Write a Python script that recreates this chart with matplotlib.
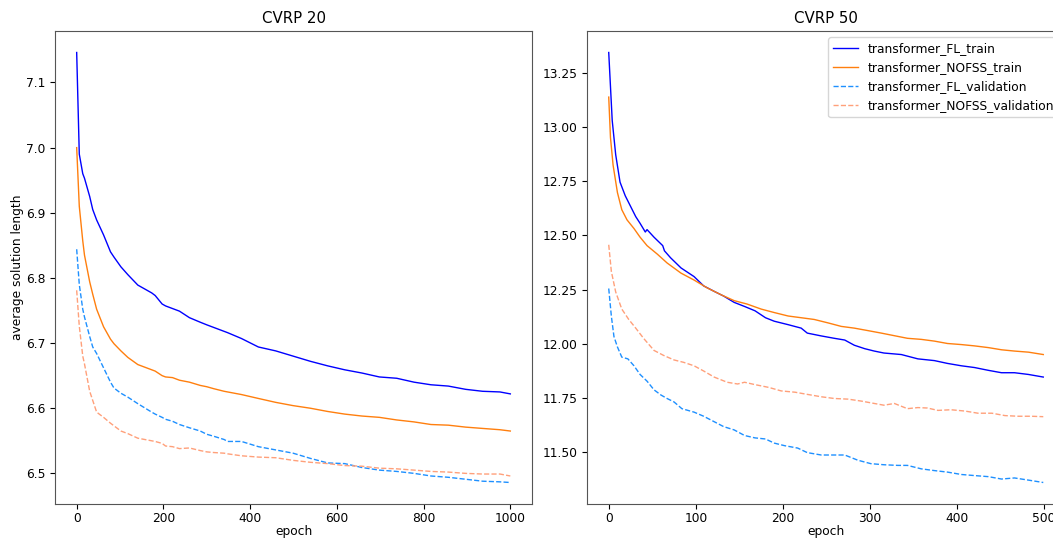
import matplotlib
matplotlib.use("Agg")
import matplotlib.pyplot as plt

ep20 = [0, 6, 14, 18, 30, 37, 46, 62, 78, 86, 102, 118, 141, 173, 181, 197, 205, 221, 237,
        260, 285, 300, 316, 340, 348, 380, 419, 459, 499, 539, 579, 618, 658, 698, 738,
        778, 817, 857, 897, 936, 976, 1000]
fl_train_20 = [7.146, 6.990, 6.960, 6.953, 6.925, 6.905, 6.889, 6.866, 6.840, 6.832, 6.817,
               6.805, 6.789, 6.777, 6.773, 6.760, 6.757, 6.753, 6.749, 6.739, 6.732, 6.728,
               6.724, 6.718, 6.716, 6.707, 6.694, 6.688, 6.680, 6.672, 6.665, 6.659, 6.654,
               6.648, 6.646, 6.640, 6.636, 6.634, 6.629, 6.626, 6.625, 6.622]
nofss_train_20 = [7.000, 6.910, 6.857, 6.835, 6.794, 6.775, 6.752, 6.725, 6.706, 6.699, 6.688,
                  6.678, 6.667, 6.659, 6.657, 6.650, 6.648, 6.647, 6.643, 6.640, 6.635, 6.633,
                  6.630, 6.626, 6.625, 6.621, 6.615, 6.609, 6.604, 6.600, 6.595, 6.591, 6.588,
                  6.586, 6.582, 6.579, 6.575, 6.574, 6.571, 6.569, 6.567, 6.565]
fl_val_20 = [6.844, 6.790, 6.752, 6.740, 6.710, 6.694, 6.684, 6.662, 6.640, 6.631, 6.623,
             6.617, 6.607, 6.594, 6.591, 6.586, 6.583, 6.580, 6.575, 6.570, 6.565, 6.560,
             6.557, 6.552, 6.549, 6.549, 6.541, 6.536, 6.531, 6.523, 6.516, 6.515, 6.509,
             6.505, 6.503, 6.500, 6.496, 6.494, 6.491, 6.488, 6.487, 6.486]
nofss_val_20 = [6.781, 6.726, 6.680, 6.668, 6.626, 6.612, 6.594, 6.586, 6.577, 6.573, 6.565,
                6.561, 6.554, 6.550, 6.549, 6.546, 6.542, 6.541, 6.538, 6.539, 6.535, 6.533,
                6.532, 6.531, 6.530, 6.527, 6.525, 6.524, 6.520, 6.517, 6.515, 6.512, 6.511,
                6.508, 6.507, 6.505, 6.503, 6.502, 6.500, 6.499, 6.499, 6.496]

# CVRP 50
ep50_fl_train = [0, 4, 8, 13, 19, 25, 31, 36, 42, 44, 52, 62, 64, 71, 83, 98, 109, 121, 132,
                 144, 156, 168, 180, 190, 206, 221, 228, 244, 259, 271, 282, 294, 305, 316,
                 336, 355, 374, 389, 405, 420, 436, 451, 466, 482, 499]
fl_train_50 = [13.345, 13.031, 12.873, 12.746, 12.683, 12.635, 12.587, 12.556, 12.516, 12.527,
               12.492, 12.453, 12.429, 12.397, 12.350, 12.310, 12.267, 12.242, 12.220, 12.191,
               12.172, 12.152, 12.120, 12.104, 12.088, 12.072, 12.049, 12.036, 12.025, 12.017,
               11.993, 11.977, 11.966, 11.957, 11.950, 11.930, 11.922, 11.909, 11.898, 11.890,
               11.877, 11.866, 11.866, 11.858, 11.846]
ep50 = [0, 2, 5, 10, 15, 21, 29, 36, 44, 56, 67, 83, 98, 113, 129, 144, 159, 175, 190, 206,
        221, 236, 252, 267, 282, 297, 313, 328, 343, 359, 374, 389, 405, 420, 436, 451, 466,
        482, 499]
nofss_train_50 = [13.139, 12.952, 12.825, 12.698, 12.619, 12.572, 12.532, 12.492, 12.453,
                  12.413, 12.373, 12.326, 12.294, 12.258, 12.226, 12.199, 12.183, 12.160,
                  12.144, 12.128, 12.120, 12.112, 12.096, 12.080, 12.072, 12.061, 12.049,
                  12.037, 12.025, 12.020, 12.012, 12.001, 11.996, 11.990, 11.982, 11.972,
                  11.966, 11.961, 11.950]
ep50_fl_val = [0, 3, 6, 10, 15, 22, 29, 36, 44, 52, 60, 67, 75, 84, 98, 109, 121, 132, 144,
               156, 168, 180, 190, 202, 217, 228, 244, 259, 271, 286, 301, 316, 332, 343, 359,
               374, 389, 405, 420, 436, 451, 466, 482, 499]
fl_val_50 = [12.255, 12.128, 12.033, 11.985, 11.938, 11.930, 11.898, 11.858, 11.827, 11.787,
             11.763, 11.747, 11.731, 11.700, 11.684, 11.665, 11.640, 11.617, 11.602, 11.576,
             11.565, 11.560, 11.541, 11.529, 11.518, 11.497, 11.486, 11.486, 11.486, 11.462,
             11.446, 11.441, 11.438, 11.438, 11.422, 11.414, 11.407, 11.396, 11.391, 11.386,
             11.375, 11.380, 11.370, 11.359]
ep50_nofss_val = [0, 3, 8, 15, 23, 31, 40, 52, 63, 75, 86, 98, 109, 121, 136, 148, 156, 168,
                  184, 198, 214, 228, 244, 259, 275, 290, 305, 316, 328, 343, 355, 366, 378,
                  393, 409, 424, 440, 455, 470, 485, 499]
nofss_val_50 = [12.457, 12.334, 12.239, 12.160, 12.112, 12.072, 12.025, 11.969, 11.946,
                11.925, 11.914, 11.898, 11.874, 11.846, 11.822, 11.814, 11.822, 11.811,
                11.798, 11.782, 11.776, 11.766, 11.755, 11.747, 11.744, 11.735, 11.724,
                11.716, 11.724, 11.700, 11.705, 11.703, 11.692, 11.695, 11.689, 11.679,
                11.679, 11.668, 11.665, 11.665, 11.663]

labels = ["transformer_FL_train", "transformer_NOFSS_train",
          "transformer_FL_validation", "transformer_NOFSS_validation"]
colors = ["blue", "tab:orange", "dodgerblue", "lightsalmon"]
styles = ["-", "-", "--", "--"]

plt.rcParams["font.size"] = 8.8

fig = plt.figure(figsize=(10.53, 5.38), dpi=100)
W, H = 1053, 538
ax1 = fig.add_axes([55 / W, (H - 504) / H, 477 / W, 473 / H])
ax2 = fig.add_axes([587 / W, (H - 504) / H, 478 / W, 473 / H])

series20 = [(ep20, fl_train_20), (ep20, nofss_train_20), (ep20, fl_val_20), (ep20, nofss_val_20)]
series50 = [(ep50_fl_train, fl_train_50), (ep50, nofss_train_50),
            (ep50_fl_val, fl_val_50), (ep50_nofss_val, nofss_val_50)]

for (x, y), lab, c, ls in zip(series20, labels, colors, styles):
    ax1.plot(x, y, ls, color=c, lw=1.0, label=lab)
for (x, y), lab, c, ls in zip(series50, labels, colors, styles):
    ax2.plot(x, y, ls, color=c, lw=1.0, label=lab)

ax1.set_title("CVRP 20", fontsize=10.8)
ax2.set_title("CVRP 50", fontsize=10.8)
ax1.set_xlabel("epoch", labelpad=0)
ax2.set_xlabel("epoch", labelpad=0)
ax1.set_ylabel("average solution length", labelpad=1)
ax1.set_xticks([0, 200, 400, 600, 800, 1000])
ax2.set_xticks([0, 100, 200, 300, 400, 500])
ax2.set_yticks([11.5, 11.75, 12.0, 12.25, 12.5, 12.75, 13.0, 13.25])
ax2.yaxis.set_major_formatter(matplotlib.ticker.FormatStrFormatter("%.2f"))
ax2.legend(loc="upper right")

for ax in (ax1, ax2):
    ax.tick_params(axis="x", pad=2.5)
    for s in ax.spines.values():
        s.set_color("#555555")

fig.savefig("out.png", dpi=100)
